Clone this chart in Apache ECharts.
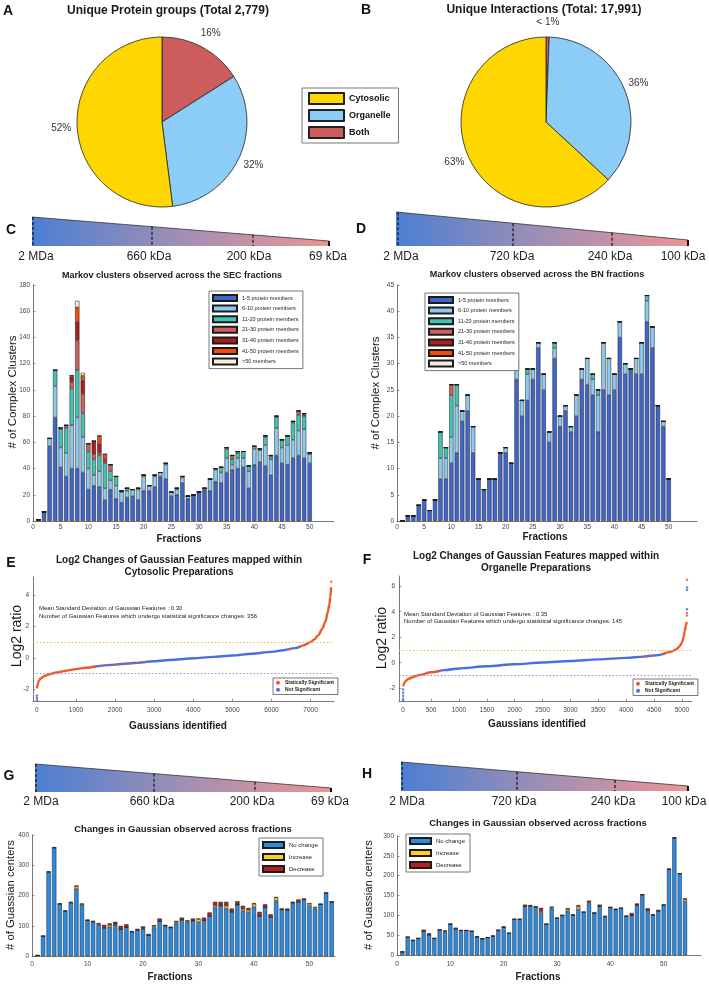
<!DOCTYPE html>
<html><head><meta charset="utf-8">
<script src="https://cdn.jsdelivr.net/npm/echarts@6/dist/echarts.min.js"></script>
<style>html,body{margin:0;padding:0;background:#fff}#c{width:709px;height:984px}</style>
</head><body><div id="c"></div>
<script>
// ================= DATA =================
const PIE_CATEGORIES = ['Cytosolic', 'Organelle', 'Both'];
const PROTEIN_GROUP_PCT = [52, 32, 16];
const INTERACTION_PCT = [63.1, 36.3, 0.6];
const INTERACTION_LABELS = ['63%', '36%', '< 1%'];

const SEC_MARKERS = ['2 MDa', '660 kDa', '200 kDa', '69 kDa'];
const BN_MARKERS = ['2 MDa', '720 kDa', '240 kDa', '100 kDa'];

const SIZE_BINS = ['1-5 protein members', '6-10 protein members', '11-20 protein members',
  '21-30 protein members', '31-40 protein members', '41-50 protein members', '>50 members'];

const FRACTIONS_50 = [1,2,3,4,5,6,7,8,9,10,11,12,13,14,15,16,17,18,19,20,21,22,23,24,25,
  26,27,28,29,30,31,32,33,34,35,36,37,38,39,40,41,42,43,44,45,46,47,48,49,50];
const FRACTIONS_54 = [1,2,3,4,5,6,7,8,9,10,11,12,13,14,15,16,17,18,19,20,21,22,23,24,25,
  26,27,28,29,30,31,32,33,34,35,36,37,38,39,40,41,42,43,44,45,46,47,48,49,50,51,52,53,54];

// SEC Markov clusters (per size bin, fractions 1-50)
const SEC_1_5   = [1,7,57,79,41,34,40,40,37,24, 27,26,16,24,17,14,18,19,16,23, 23,26,34,32,19,20,29,17,20,22, 24,23,30,29,37,39,40,41,25,43, 45,42,35,50,44,43,48,50,48,44];
const SEC_6_10  = [0,0,6,24,15,18,33,39,27,16, 8,12,9,7,10,8,5,5,8,11, 4,8,3,11,3,4,4,2,0,0, 1,9,9,8,11,4,8,7,13,12, 9,16,12,21,12,15,14,19,22,7];
const SEC_11_20 = [0,0,0,12,14,19,28,36,18,13, 12,12,19,7,7,1,2,0,1,1, 0,1,0,1,0,1,1,0,0,0, 0,0,1,4,7,4,4,5,4,2, 1,6,2,8,6,7,13,12,10,1];
const SEC_21_30 = [0,0,0,0,1,2,5,23,15,6, 4,2,2,5,0,0,0,0,0,0, 0,0,0,0,0,0,0,0,0,0, 0,0,0,0,1,3,1,0,0,0, 0,1,1,1,0,0,1,3,1,0];
const SEC_31_40 = [0,0,0,0,0,0,4,14,10,0, 10,7,1,0,0,0,0,0,0,0, 0,0,0,0,0,0,0,0,0,0, 0,0,0,0,0,0,0,0,0,0, 0,0,0,0,0,0,0,0,1,0];
const SEC_41_50 = [0,0,0,0,0,0,1,11,4,0, 0,6,4,0,0,0,0,0,0,0, 0,0,0,0,0,0,0,0,0,0, 0,0,0,0,0,0,0,0,0,0, 0,0,0,0,0,0,0,0,0,0];
const SEC_GT50  = [0,0,0,0,0,0,0,5,2,0, 0,0,0,0,0,0,0,0,0,0, 0,0,0,0,0,0,0,0,0,0, 0,0,0,0,0,0,0,0,0,0, 0,0,0,0,0,0,0,0,0,0];

// BN Markov clusters (fractions 1-50)
const BN_1_5   = [0,1,1,3,4,2,4,8,8,11, 13,19,21,13,8,6,8,8,13,13, 11,27,20,23,27,33,25,15,31,18, 21,17,20,27,26,24,17,25,24,25, 35,28,29,28,28,38,33,22,18,8];
const BN_6_10  = [0,0,0,0,0,0,0,4,4,5, 9,2,3,5,0,0,0,0,0,1, 0,3,3,5,2,1,3,2,2,2, 1,1,4,2,5,3,7,9,7,3, 3,2,0,3,6,4,4,0,1,0];
const BN_11_20 = [0,0,0,0,0,0,0,5,2,8, 4,0,0,0,0,0,0,0,0,0, 0,0,0,1,0,0,0,0,1,0, 0,0,0,0,0,1,1,0,0,0, 0,0,0,0,0,1,0,0,0,0];
const BN_21_30 = [0,0,0,0,0,0,0,0,0,2, 0,0,0,0,0,0,0,0,0,0, 0,0,0,0,0,0,0,0,0,0, 0,0,0,0,0,0,0,0,0,0, 0,0,0,0,0,0,0,0,0,0];
const BN_31_40 = [0,0,0,0,0,0,0,0,0,0, 0,0,0,0,0,0,0,0,0,0, 0,0,0,0,0,0,0,0,0,0, 0,0,0,0,0,0,0,0,0,0, 0,0,0,0,0,0,0,0,0,0];
const BN_41_50 = [0,0,0,0,0,0,0,0,0,0, 0,0,0,0,0,0,0,0,0,0, 0,0,0,0,0,0,0,0,0,0, 0,0,0,0,0,0,0,0,0,0, 0,0,0,0,0,0,0,0,0,0];
const BN_GT50  = [0,0,0,0,0,0,0,0,0,0, 0,0,0,0,0,0,0,0,0,0, 0,0,0,0,0,0,0,0,0,0, 0,0,0,0,0,0,0,0,0,0, 0,0,0,0,0,0,0,0,0,0];

// Log2 changes of Gaussian features: sorted curves [rank, log2 ratio]
const SIG_NAMES = ['Statically Significant', 'Not Significant'];
const THRESHOLDS = [1, -1];
const E_SIG_LEFT  = [[0,-1.95],[20,-1.7],[50,-1.45],[100,-1.3],[200,-1.15],[300,-1.06],[500,-0.93],[750,-0.82],[1000,-0.72],[1250,-0.63],[1500,-0.55]];
const E_NS_MID    = [[1450,-0.56],[2000,-0.43],[2500,-0.33],[3000,-0.22],[3500,-0.12],[4000,-0.03],[4500,0.06],[5000,0.15],[5500,0.26],[6000,0.38],[6300,0.48],[6600,0.62],[6750,0.72]];
const E_SIG_RIGHT = [[6700,0.69],[6800,0.78],[7000,1.0],[7100,1.18],[7200,1.45],[7300,1.85],[7380,2.3],[7440,2.9],[7480,3.4],[7510,3.9],[7525,4.5]];
const E_SIG_DOTS  = [[1650,-0.52],[1800,-0.48],[2050,-0.42],[2250,-0.38],[2400,-0.35],[2600,-0.31],[2750,-0.28],[6450,0.55],[7530,4.85]];
const E_NS_DOTS   = [[0,-2.4],[0,-2.55],[0,-2.72]];
const E_NOTES = ['Mean Standard Deviation of Gaussian Features : 0.30',
  'Number of Gaussian Features which undergo statistical significance changes: 356'];

const F_SIG_LEFT  = [[0,-1.85],[20,-1.6],[50,-1.4],[100,-1.25],[200,-1.08],[300,-0.95],[500,-0.75],[650,-0.65]];
const F_NS_MID    = [[600,-0.68],[750,-0.58],[1000,-0.45],[1500,-0.28],[2000,-0.12],[2500,0.02],[3000,0.14],[3500,0.26],[4000,0.38],[4300,0.48],[4500,0.57],[4700,0.72]];
const F_SIG_RIGHT = [[4650,0.68],[4800,0.85],[4900,1.05],[4960,1.3],[5000,1.6],[5030,2.0],[5050,2.5],[5070,2.9],[5085,3.2]];
const F_SIG_DOTS  = [[4350,0.5],[4450,0.55],[5090,3.7],[5090,3.9],[5090,6.5]];
const F_NS_DOTS   = [[0,-2.1],[0,-2.35],[0,-2.6],[0,-2.85],[0,-3.0],[5090,4.2],[5090,5.7],[5090,5.9]];
const F_NOTES = ['Mean Standard Deviation of Gaussian Features : 0.35',
  'Number of Gaussian Features which undergo statistical significance changes: 145'];

// Changes in Gaussian centers (fractions 1-54)
const CHANGE_NAMES = ['No change', 'Increase', 'Decrease'];
const G_NOCHANGE = [2,66,277,358,172,148,176,222,168,118, 113,103,93,95,103,88,95,80,85,90, 68,94,115,100,94,107,120,112,117,112, 118,132,160,167,157,146,170,148,145,162, 133,161,129,183,154,152,176,179,187,165, 155,171,208,178];
const G_INCREASE = [0,0,1,0,0,1,1,8,4,0, 1,3,0,7,2,0,0,0,1,2, 0,5,0,0,0,5,0,4,0,10, 0,0,6,0,9,0,0,7,7,10, 0,0,0,10,0,0,1,0,0,7, 5,0,0,0];
const G_DECREASE = [0,0,2,2,2,2,2,3,1,2, 2,3,10,6,8,12,10,2,4,6, 5,3,9,3,3,4,7,2,7,2, 9,12,13,12,13,11,11,11,7,3, 13,10,9,2,3,5,2,8,3,3, 2,2,2,3];

const H_NOCHANGE = [8,45,37,42,60,51,42,63,58,78, 66,62,62,60,46,41,44,48,62,70, 55,90,90,123,124,121,105,78,117,93, 100,110,101,115,108,130,105,123,96,120, 115,118,98,100,126,152,113,101,111,126, 216,295,205,135];
const H_INCREASE = [0,0,0,0,0,0,0,0,2,0, 0,0,0,0,0,0,0,0,0,0, 0,0,0,0,0,0,4,0,3,0, 0,5,0,7,0,3,0,0,1,0, 0,0,0,0,0,0,0,0,0,0, 0,0,0,5];
const H_DECREASE = [0,1,0,0,4,4,0,2,2,0, 3,0,0,0,0,0,0,0,2,2, 0,1,1,4,2,2,10,0,2,0, 0,3,1,4,1,4,3,4,2,1, 1,1,1,6,4,1,5,1,3,1, 2,2,1,3];

const TICKS_0_50_5 = [0,5,10,15,20,25,30,35,40,45,50];
const TICKS_0_50_10 = [0,10,20,30,40,50];
const E_XTICKS = [0,1000,2000,3000,4000,5000,6000,7000];
const F_XTICKS = [0,500,1000,1500,2000,2500,3000,3500,4000,4500,5000];
const E_YTICKS = [-2,0,2,4];
const F_YTICKS = [-2,0,2,4,6];

// ================= STYLE =================
const FONT = '"Liberation Sans", Arial, Helvetica, sans-serif';
const PIE_COLORS = {Cytosolic:'#ffd700', Organelle:'#8ccdf8', Both:'#cd5c5c'};
const SIZE_COLORS = ['#4166c9','#8dcbee','#44c3b3','#cc5f5f','#ad1d1f','#f44a0c','#f6efdf'];
const CHANGE_COLORS = ['#2b8be2','#ffd21f','#b3201e'];
const SIG_COLOR = '#ee5a29', NS_COLOR = '#4a6ee0';
const THRESH_COLORS = ['#f2b447', '#a77fdc'];

const chart = echarts.init(document.getElementById('c'), null, {renderer:'canvas'});

function txt(x, y, text, size, weight, extra) {
  extra = extra || {};
  const al = extra.align || 'center';
  const el = {type:'text', x:x, y:y, silent:true, z:100,
    style:{text:text, fill:extra.color || '#1a1a1a', fontSize:size, fontWeight:weight || 'normal', fontFamily:FONT,
      align:al, verticalAlign:'middle', textAlign:al, textVerticalAlign:'middle'}};
  if (extra.rot) el.rotation = extra.rot;
  return el;
}

function wedge(g, markers) {
  const els = [];
  els.push({type:'polygon', silent:true, shape:{points:[[g.x0,g.yTL],[g.x1,g.yTR],[g.x1,g.yB],[g.x0,g.yB]]},
    style:{fill:new echarts.graphic.LinearGradient(0,0,1,0,[{offset:0,color:'#4b7fd3'},{offset:0.5,color:'#a08fb4'},{offset:1,color:'#ec9494'}]), stroke:null}});
  els.push({type:'line', silent:true, shape:{x1:g.x0,y1:g.yTL,x2:g.x1,y2:g.yTR}, style:{stroke:'#333', lineWidth:0.8}});
  els.push({type:'line', silent:true, shape:{x1:g.x1,y1:g.yTR,x2:g.x1,y2:g.yB}, style:{stroke:'#111', lineWidth:2}});
  g.dash.forEach(function(dx){
    const yt = g.yTL + (g.yTR - g.yTL) * (dx - g.x0) / (g.x1 - g.x0);
    els.push({type:'line', silent:true, shape:{x1:dx,y1:yt,x2:dx,y2:g.yB}, style:{stroke:'#111', lineWidth:1.2, lineDash:[3,2]}});
  });
  markers.forEach(function(m, i){ els.push(txt(g.lx[i], g.ly, m, 12, 'normal', {color:'#222'})); });
  return els;
}

// value first, fraction second, so that the stack is computed on the value dimension
function stacked(xs, layers, names, colors, gi, stack, bw) {
  return layers.map(function(vals, k){
    return {type:'bar', name:names[k], xAxisIndex:gi, yAxisIndex:gi, stack:stack, barWidth:bw,
      encode:{x:1, y:0},
      data: xs.map(function(x, i){ return [vals[i], x]; }),
      itemStyle:{color:colors[k], borderColor:'#1c1c1c', borderWidth:0.5},
      emphasis:{disabled:true}, silent:true, animation:false};
  });
}

const plain = function(v){ return String(v); };
function xAx(gi, min, max, ticks, margin) {
  return {type:'value', gridIndex:gi, min:min, max:max,
    axisLine:{show:true, onZero:false, lineStyle:{color:'#555', width:0.8}},
    axisTick:{show:true, inside:true, length:2.5, customValues:ticks, lineStyle:{color:'#555', width:0.6}},
    axisLabel:{customValues:ticks, fontSize:6.5, color:'#444', margin:margin, fontFamily:FONT, formatter:plain},
    splitLine:{show:false}};
}
function yAx(gi, min, max, ticks, margin) {
  return {type:'value', gridIndex:gi, min:min, max:max,
    axisLine:{show:true, onZero:false, lineStyle:{color:'#555', width:0.8}},
    axisTick:{show:true, inside:true, length:2.5, customValues:ticks, lineStyle:{color:'#555', width:0.6}},
    axisLabel:{customValues:ticks, fontSize:6.5, color:'#444', margin:margin, fontFamily:FONT, formatter:plain},
    splitLine:{show:false}};
}
function range(a, b, s) { const r = []; for (let v = a; v <= b + 1e-9; v += s) r.push(v); return r; }

const PIE_ORDER = ['Both','Organelle','Cytosolic'];
function pieData(values) {
  return PIE_ORDER.map(function(n){
    const idx = PIE_CATEGORIES.indexOf(n);
    return {name:n, value:values[idx], itemStyle:{color:PIE_COLORS[n]}};
  });
}
// put each percentage label on the bisector of its slice, a fixed distance from the centre
function pieLabelLayout(values, center, dist) {
  const ordered = PIE_ORDER.map(function(n){ return values[PIE_CATEGORIES.indexOf(n)]; });
  const total = ordered.reduce(function(a, b){ return a + b; }, 0);
  return function(params){
    let cum = 0;
    for (let i = 0; i < params.dataIndex; i++) cum += ordered[i];
    const mid = (cum + ordered[params.dataIndex] / 2) / total * 2 * Math.PI;
    return {x:center[0] + dist * Math.sin(mid), y:center[1] - dist * Math.cos(mid), align:'center', verticalAlign:'middle'};
  };
}

const pieBase = {type:'pie', radius:85, startAngle:90, clockwise:true, avoidLabelOverlap:false, animation:false,
  itemStyle:{borderColor:'#222', borderWidth:0.8}, emphasis:{disabled:true}, silent:true,
  labelLine:{show:false, length:6, length2:0}};

const series = [];
series.push(Object.assign({}, pieBase, {name:'A', center:[162,122], data:pieData(PROTEIN_GROUP_PCT),
  labelLayout:pieLabelLayout(PROTEIN_GROUP_PCT, [162,122], 101),
  label:{show:true, position:'outside', fontSize:10, color:'#333', fontFamily:FONT,
    formatter:function(p){ return Math.round(p.value) + '%'; }}}));
series.push(Object.assign({}, pieBase, {name:'B', center:[546,122], data:pieData(INTERACTION_PCT),
  labelLayout:pieLabelLayout(INTERACTION_PCT, [546,122], 100),
  label:{show:true, position:'outside', fontSize:10, color:'#333', fontFamily:FONT,
    formatter:function(p){ return INTERACTION_LABELS[PIE_CATEGORIES.indexOf(p.name)]; }}}));

Array.prototype.push.apply(series, stacked(FRACTIONS_50, [SEC_1_5,SEC_6_10,SEC_11_20,SEC_21_30,SEC_31_40,SEC_41_50,SEC_GT50], SIZE_BINS, SIZE_COLORS, 0, 'sec', 4.3));
Array.prototype.push.apply(series, stacked(FRACTIONS_50, [BN_1_5,BN_6_10,BN_11_20,BN_21_30,BN_31_40,BN_41_50,BN_GT50], SIZE_BINS, SIZE_COLORS, 1, 'bn', 4.3));
Array.prototype.push.apply(series, stacked(FRACTIONS_54, [G_NOCHANGE,G_INCREASE,G_DECREASE], CHANGE_NAMES, CHANGE_COLORS, 4, 'g', 4.3));
Array.prototype.push.apply(series, stacked(FRACTIONS_54, [H_NOCHANGE,H_INCREASE,H_DECREASE], CHANGE_NAMES, CHANGE_COLORS, 5, 'h', 4.1));

function thresholdSeries(gi, value, color) {
  return {type:'line', name:'threshold', xAxisIndex:gi, yAxisIndex:gi, data:[], silent:true, animation:false, z:1,
    markLine:{silent:true, symbol:'none', label:{show:false}, animation:false,
      lineStyle:{color:color, type:[1.5, 2], width:1},
      data:[{yAxis:value}]}};
}

function curveSeries(gi, sigL, ns, sigR, sigDots, nsDots) {
  const line = function(name, data, color, extra){
    return Object.assign({type:'line', name:name, xAxisIndex:gi, yAxisIndex:gi, data:data, symbol:'none',
      smooth:0.3, smoothMonotone:'x', lineStyle:{color:color, width:2.4}, itemStyle:{color:color},
      silent:true, animation:false, z:3}, extra || {});
  };
  const dots = function(name, data, color){
    return {type:'scatter', name:name, xAxisIndex:gi, yAxisIndex:gi, data:data, symbolSize:2.6,
      itemStyle:{color:color}, silent:true, animation:false, z:4};
  };
  return [
    thresholdSeries(gi, THRESHOLDS[0], THRESH_COLORS[0]),
    thresholdSeries(gi, THRESHOLDS[1], THRESH_COLORS[1]),
    line(SIG_NAMES[0], sigL, SIG_COLOR),
    line(SIG_NAMES[1], ns, NS_COLOR, {z:2}),
    line(SIG_NAMES[0], sigR, SIG_COLOR),
    dots(SIG_NAMES[0], sigDots, SIG_COLOR),
    dots(SIG_NAMES[1], nsDots, NS_COLOR)
  ];
}
Array.prototype.push.apply(series, curveSeries(2, E_SIG_LEFT, E_NS_MID, E_SIG_RIGHT, E_SIG_DOTS, E_NS_DOTS));
Array.prototype.push.apply(series, curveSeries(3, F_SIG_LEFT, F_NS_MID, F_SIG_RIGHT, F_SIG_DOTS, F_NS_DOTS));

// ---- graphic: letters, titles, names, wedges, notes ----
let graphics = [];
[['A',8,11],['B',366,10],['C',11,230],['D',361,229],['E',11,563],['F',367,560],['G',9,776],['H',367,774]]
  .forEach(function(l){ graphics.push(txt(l[1], l[2], l[0], 14, 'bold', {color:'#111'})); });

graphics.push(txt(168, 11, 'Unique Protein groups (Total 2,779)', 12, 'bold'));
graphics.push(txt(544, 10, 'Unique Interactions (Total: 17,991)', 12, 'bold'));
graphics.push(txt(172, 276, 'Markov clusters observed across the SEC fractions', 9, 'bold'));
graphics.push(txt(537, 275, 'Markov clusters observed across the BN fractions', 9, 'bold'));
graphics.push(txt(179, 560, 'Log2 Changes of Gaussian Features mapped within', 10, 'bold'));
graphics.push(txt(179, 572, 'Cytosolic Preparations', 10, 'bold'));
graphics.push(txt(536, 556, 'Log2 Changes of Gaussian Features mapped within', 10, 'bold'));
graphics.push(txt(536, 568, 'Organelle Preparations', 10, 'bold'));
graphics.push(txt(183, 829, 'Changes in Gaussian observed across fractions', 9.5, 'bold'));
graphics.push(txt(538, 823, 'Changes in Gaussian observed across fractions', 9.5, 'bold'));

// axis names
const R = Math.PI / 2;
graphics.push(txt(12.5, 392, '# of Complex Clusters', 11.5, 'normal', {rot:R}));
graphics.push(txt(376, 393, '# of Complex Clusters', 11.5, 'normal', {rot:R}));
graphics.push(txt(179, 539, 'Fractions', 10, 'bold'));
graphics.push(txt(545, 537, 'Fractions', 10, 'bold'));
graphics.push(txt(17, 636, 'Log2 ratio', 14, 'normal', {rot:R}));
graphics.push(txt(382, 638, 'Log2 ratio', 14, 'normal', {rot:R}));
graphics.push(txt(178, 726, 'Gaussians identified', 10, 'bold'));
graphics.push(txt(537, 724, 'Gaussians identified', 10, 'bold'));
graphics.push(txt(11, 895, '# of Guassian centers', 11.3, 'normal', {rot:R}));
graphics.push(txt(369, 895, '# of Guassian centers', 11.3, 'normal', {rot:R}));
graphics.push(txt(170, 977, 'Fractions', 10, 'bold'));
graphics.push(txt(538, 977, 'Fractions', 10, 'bold'));

// notes
graphics.push(txt(39, 608, E_NOTES[0], 6, 'normal', {align:'left', color:'#222'}));
graphics.push(txt(39, 616, E_NOTES[1], 6, 'normal', {align:'left', color:'#222'}));
graphics.push(txt(404, 614, F_NOTES[0], 6, 'normal', {align:'left', color:'#222'}));
graphics.push(txt(404, 621, F_NOTES[1], 6, 'normal', {align:'left', color:'#222'}));

// wedges
graphics = graphics.concat(wedge({x0:32,x1:329,yTL:217,yTR:241,yB:246,dash:[33,152,253],lx:[36,149,249,328],ly:257}, SEC_MARKERS));
graphics = graphics.concat(wedge({x0:396,x1:688,yTL:212,yTR:240,yB:246,dash:[398,513,612],lx:[401,512,610,683],ly:257}, BN_MARKERS));
graphics = graphics.concat(wedge({x0:35,x1:331,yTL:764,yTR:788,yB:792,dash:[36,154,255],lx:[41,152,252,330],ly:802}, SEC_MARKERS));
graphics = graphics.concat(wedge({x0:401,x1:688,yTL:762,yTR:786,yB:791,dash:[402,517,615],lx:[407,514,613,684],ly:802}, BN_MARKERS));

const legendBase = {orient:'vertical', backgroundColor:'#fff', borderColor:'#555', borderWidth:0.8, selectedMode:false};

const option = {
  animation:false,
  backgroundColor:'#ffffff',
  textStyle:{fontFamily:FONT},
  tooltip:{show:false},
  grid:[
    {left:33, top:285, width:301, height:236, outerBoundsMode:'none', containLabel:false},
    {left:397, top:285, width:300, height:236, outerBoundsMode:'none', containLabel:false},
    {left:33, top:577, width:301, height:124, outerBoundsMode:'none', containLabel:false},
    {left:399, top:576, width:293, height:125, outerBoundsMode:'none', containLabel:false},
    {left:32, top:835, width:303, height:121, outerBoundsMode:'none', containLabel:false},
    {left:397, top:836, width:304, height:119, outerBoundsMode:'none', containLabel:false}
  ],
  xAxis:[
    xAx(0, 0, 54.4, TICKS_0_50_5, 3),
    xAx(1, 0, 55.2, TICKS_0_50_5, 3),
    xAx(2, -100, 7600, E_XTICKS, 6),
    xAx(3, -75, 5180, F_XTICKS, 6),
    xAx(4, 0, 54.6, TICKS_0_50_10, 5),
    xAx(5, 0, 57, TICKS_0_50_10, 6)
  ],
  yAxis:[
    yAx(0, 0, 180, range(0,180,20), 3),
    yAx(1, 0, 45, range(0,45,5), 3),
    yAx(2, -2.75, 5.15, E_YTICKS, 4),
    yAx(3, -3, 6.8, F_YTICKS, 4),
    yAx(4, 0, 400, range(0,400,100), 3),
    yAx(5, 0, 300, range(0,300,50), 3)
  ],
  legend:[
    Object.assign({}, legendBase, {left:302, top:88, data:PIE_CATEGORIES, icon:'rect', itemWidth:35, itemHeight:11, itemGap:4,
      padding:[4,8,4,6], textStyle:{fontSize:9, fontWeight:'bold', color:'#111'}}),
    Object.assign({}, legendBase, {left:209, top:291, data:SIZE_BINS, icon:'rect', itemWidth:24, itemHeight:6, itemGap:2.6,
      padding:[3,4,3,3], textStyle:{fontSize:5.5, color:'#222', lineHeight:6}}),
    Object.assign({}, legendBase, {left:425, top:293, data:SIZE_BINS, icon:'rect', itemWidth:24, itemHeight:6, itemGap:2.6,
      padding:[3,4,3,3], textStyle:{fontSize:5.5, color:'#222', lineHeight:6}}),
    Object.assign({}, legendBase, {left:273, top:678, data:SIG_NAMES, icon:'circle', itemWidth:4, itemHeight:4, itemGap:1.5,
      padding:[2,4,2,3], textStyle:{fontSize:5, fontWeight:'bold', color:'#222', lineHeight:5.5}}),
    Object.assign({}, legendBase, {left:633, top:679, data:SIG_NAMES, icon:'circle', itemWidth:4, itemHeight:4, itemGap:1.5,
      padding:[2,4,2,3], textStyle:{fontSize:5, fontWeight:'bold', color:'#222', lineHeight:5.5}}),
    Object.assign({}, legendBase, {left:259, top:838, data:CHANGE_NAMES, icon:'rect', itemWidth:21, itemHeight:6, itemGap:4,
      padding:[3,5,3,3], textStyle:{fontSize:6, color:'#222', lineHeight:6}}),
    Object.assign({}, legendBase, {left:406, top:834, data:CHANGE_NAMES, icon:'rect', itemWidth:21, itemHeight:6, itemGap:4,
      padding:[3,5,3,3], textStyle:{fontSize:6, color:'#222', lineHeight:6}})
  ],
  series:series,
  graphic:{elements:graphics}
};
chart.setOption(option);
</script>
</body></html>
